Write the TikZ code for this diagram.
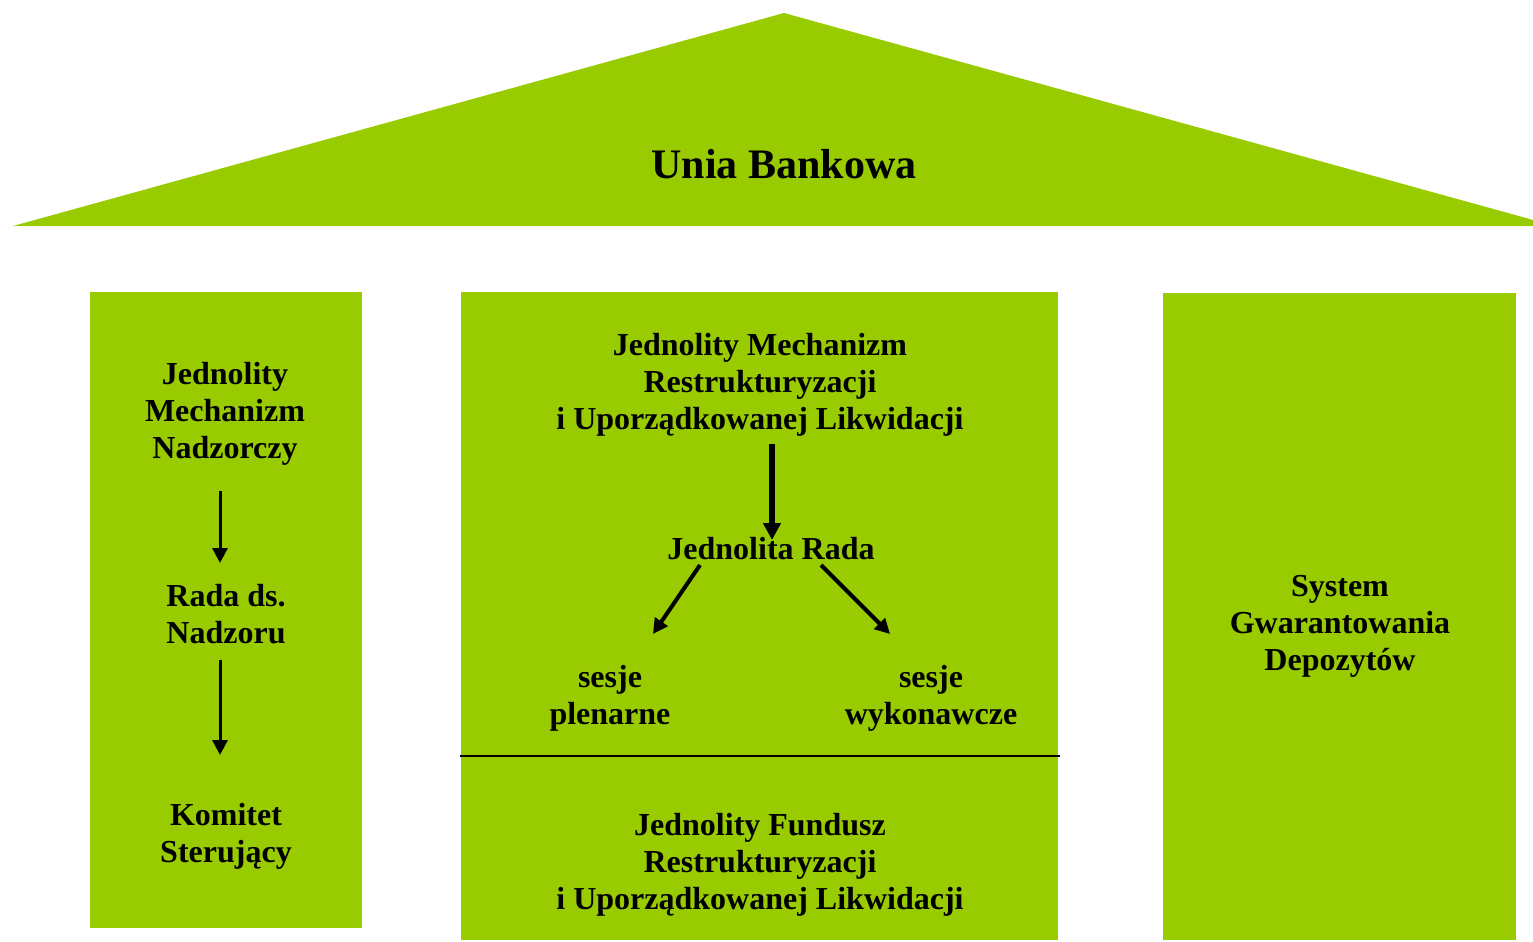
\documentclass[tikz,border=0pt]{standalone}
\usepackage{fontspec}
\setmainfont{Liberation Serif}
\usetikzlibrary{arrows.meta,positioning,calc}
\definecolor{euGreen}{HTML}{99CC00}

\begin{document}
\begin{tikzpicture}[x=0.5pt,y=-0.5pt,
                    pillar/.style={fill=euGreen,draw=none},
                    main node/.style={align=center,inner sep=0pt,font=\bfseries\fontsize{16}{18.5}\selectfont},
                    thin arrow/.style={-{Triangle[length=7.5pt,width=7.5pt]},line width=1.5pt},
                    thick arrow/.style={-{Triangle[length=8.5pt,width=8.5pt]},line width=3pt},
                    side arrow/.style={-{Triangle[length=7.5pt,width=7.5pt]},line width=2pt}]

  \useasboundingbox (0,0) rectangle (1533,942);

  % roof and pillars
  \fill[euGreen] (13,226) -- (784,13) -- (1555,226) -- cycle;
  \fill[pillar] (90,292) rectangle (362,928);
  \fill[pillar] (461,292) rectangle (1058,940);
  \fill[pillar] (1163,293) rectangle (1516,940);
  \draw[line width=1pt] (460,756) -- (1060,756);

  \node[main node,font=\bfseries\fontsize{21}{24}\selectfont] (ub) at (784,164) {Unia Bankowa};

  % left pillar
  \node[main node] (jmn) at (225,414) {Jednolity\\Mechanizm\\Nadzorczy};
  \node[main node] (rada) at (226,614) {Rada ds.\\Nadzoru};
  \node[main node] (kom) at (226,836) {Komitet\\Sterujący};

  % middle pillar
  \node[main node] (jmr) at (760,385) {Jednolity Mechanizm\\Restrukturyzacji\\i Uporządkowanej Likwidacji};
  \node[main node] (jr) at (771,549) {Jednolita Rada};
  \node[main node] (plen) at (610,698) {sesje\\plenarne};
  \node[main node] (wyk) at (931,698) {sesje\\wykonawcze};
  \node[main node] (jfr) at (760,865) {Jednolity Fundusz\\Restrukturyzacji\\i Uporządkowanej Likwidacji};

  % right pillar
  \node[main node] (sgd) at (1340,626) {System\\Gwarantowania\\Depozytów};

  \draw[thin arrow] ($(jmn)+(-5,77)$) -- ($(rada)+(-6,-51)$);
  \draw[thin arrow] ($(rada)+(-6,46)$) -- ($(kom)+(-6,-81)$);
  \draw[thick arrow] ($(jmr)+(12,59)$) -- ($(jr)+(1,-9)$);
  \draw[side arrow] ($(jr)+(-71,16)$) -- ($(plen)+(43,-64)$);
  \draw[side arrow] ($(jr)+(50,16)$) -- ($(wyk)+(-41,-64)$);

\end{tikzpicture}
\end{document}
